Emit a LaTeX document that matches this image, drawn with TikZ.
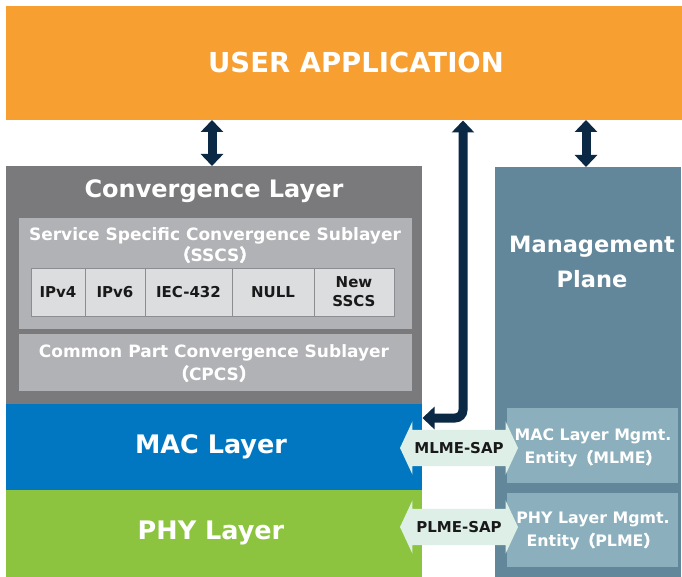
\documentclass[tikz,border=0pt]{standalone}
\usepackage{fontspec}
\setmainfont{DejaVu Sans}
\newfontfamily\cjk{Noto Sans CJK SC}[FakeBold=2.5]
\newcommand\fwlp{{\cjk （}}
\newcommand\fwrp{{\cjk ）}}
\usetikzlibrary{arrows.meta,shapes.arrows,calc}
\definecolor{userorange}{HTML}{F79F31}
\definecolor{convgray}{HTML}{7A7A7C}
\definecolor{subgray}{HTML}{B1B2B5}
\definecolor{cellgray}{HTML}{DCDDDF}
\definecolor{cellline}{HTML}{8C8D90}
\definecolor{macblue}{HTML}{0077C0}
\definecolor{phygreen}{HTML}{8CC43F}
\definecolor{mgmtblue}{HTML}{62879A}
\definecolor{entblue}{HTML}{8BAFBC}
\definecolor{navy}{HTML}{0B2945}
\definecolor{sapgreen}{HTML}{DDEFE7}
\begin{document}
\begin{tikzpicture}[x=1pt,y=-1pt,
  blk/.style={anchor=north west,inner sep=0pt,outer sep=0pt,draw=none},
  cell/.style={anchor=north west,inner sep=0pt,outer sep=0pt,fill=cellgray,draw=cellline,line width=0.8pt,
     font=\bfseries\fontsize{15}{19}\selectfont,text=black!90,align=center},
  wtxt/.style={text=white,font=\bfseries,align=center,inner sep=0pt},
  navyarrow/.style={draw=navy,line width=9pt,{Triangle[length=12pt,width=22pt]}-{Triangle[length=12pt,width=22pt]}},
  sap/.style={double arrow,fill=sapgreen,minimum height=118pt,minimum width=0pt,
     text height=11pt,text depth=0pt,
     double arrow head extend=8.5pt,double arrow tip angle=130,inner xsep=1pt,inner ysep=12.5pt,
     font=\bfseries\fontsize{15}{16}\selectfont,text=black!90}]
\useasboundingbox (0,0) rectangle (682,577);
\fill[white] (0,0) rectangle (682,577);
% main blocks
\node[blk,fill=userorange,minimum width=676pt,minimum height=114pt] (user) at (6,6) {};
\node[blk,fill=convgray,minimum width=416pt,minimum height=238pt] (conv) at (6,166) {};
\node[blk,fill=macblue,minimum width=416pt,minimum height=86pt] (mac) at (6,404) {};
\node[blk,fill=phygreen,minimum width=416pt,minimum height=87pt] (phy) at (6,490) {};
\node[blk,fill=mgmtblue,minimum width=186pt,minimum height=410pt] (mgmt) at (495,167) {};
\node[blk,fill=subgray,minimum width=393pt,minimum height=111pt] (sscs) at (19,218) {};
\node[blk,fill=subgray,minimum width=393pt,minimum height=57pt] (cpcs) at (19,334) {};
\node[blk,fill=entblue,minimum width=171pt,minimum height=75pt] (mlme) at (507,408) {};
\node[blk,fill=entblue,minimum width=171pt,minimum height=74pt] (plme) at (507,493) {};
% cells
\node[cell,minimum width=54pt,minimum height=48pt] (ipv4) at (31,268) {IPv4};
\node[cell,minimum width=60pt,minimum height=48pt] (ipv6) at (85,268) {IPv6};
\node[cell,minimum width=87pt,minimum height=48pt] (iec) at (145,268) {IEC-432};
\node[cell,minimum width=82pt,minimum height=48pt] (null) at (232,268) {NULL};
\node[cell,minimum width=80pt,minimum height=48pt] (new) at (314,268) {New\\SSCS};
% texts
\node[wtxt,font=\bfseries\fontsize{27.5}{30}\selectfont] (usertxt) at (356,62) {USER APPLICATION};
\node[wtxt,font=\bfseries\fontsize{24}{26}\selectfont] (convtxt) at (214,191) {Convergence Layer};
\node[wtxt,font=\bfseries\fontsize{17}{21}\selectfont] (sscstxt) at (215,245) {Service Specific Convergence Sublayer\\\fwlp SSCS\fwrp};
\node[wtxt,font=\bfseries\fontsize{17}{23}\selectfont] (cpcstxt) at (214,363) {Common Part Convergence Sublayer\\\fwlp CPCS\fwrp};
\node[wtxt,font=\bfseries\fontsize{25.5}{27}\selectfont] (mactxt) at (211,447) {MAC Layer};
\node[wtxt,font=\bfseries\fontsize{25.5}{27}\selectfont] (phytxt) at (211,533) {PHY Layer};
\node[wtxt,font=\bfseries\fontsize{22.5}{35}\selectfont] (mgmttxt) at (592,262) {Management\\Plane};
\node[wtxt,font=\bfseries\fontsize{15.8}{23}\selectfont] (mlmetxt) at (593,448) {MAC Layer Mgmt.\\Entity\fwlp MLME\fwrp};
\node[wtxt,font=\bfseries\fontsize{15.8}{23}\selectfont] (plmetxt) at (593,531) {PHY Layer Mgmt.\\Entity\fwlp PLME\fwrp};
% SAP arrows
\node[sap] (mlmesap) at (459,448) {MLME-SAP};
\node[sap] (plmesap) at (459,527) {PLME-SAP};
% navy arrows
\coordinate (ax1) at (212,0);
\coordinate (ax2) at (586,0);
\coordinate (ax3) at (463,418);
\coordinate (ay3) at (0,418);
\draw[navyarrow] (user.south -| ax1) -- (conv.north -| ax1);
\draw[navyarrow] (user.south -| ax2) -- (mgmt.north -| ax2);
\draw[draw=white,line width=11pt,rounded corners=9pt,{Triangle[length=13pt,width=24pt]}-{Triangle[length=13pt,width=24pt]}]
   (user.south -| ax3) -- (ax3) -- (mac.east |- ay3);
\draw[navyarrow,rounded corners=8pt,shorten <=0.5pt,shorten >=0.5pt] (user.south -| ax3) -- (ax3) -- (mac.east |- ay3);
\end{tikzpicture}
\end{document}
